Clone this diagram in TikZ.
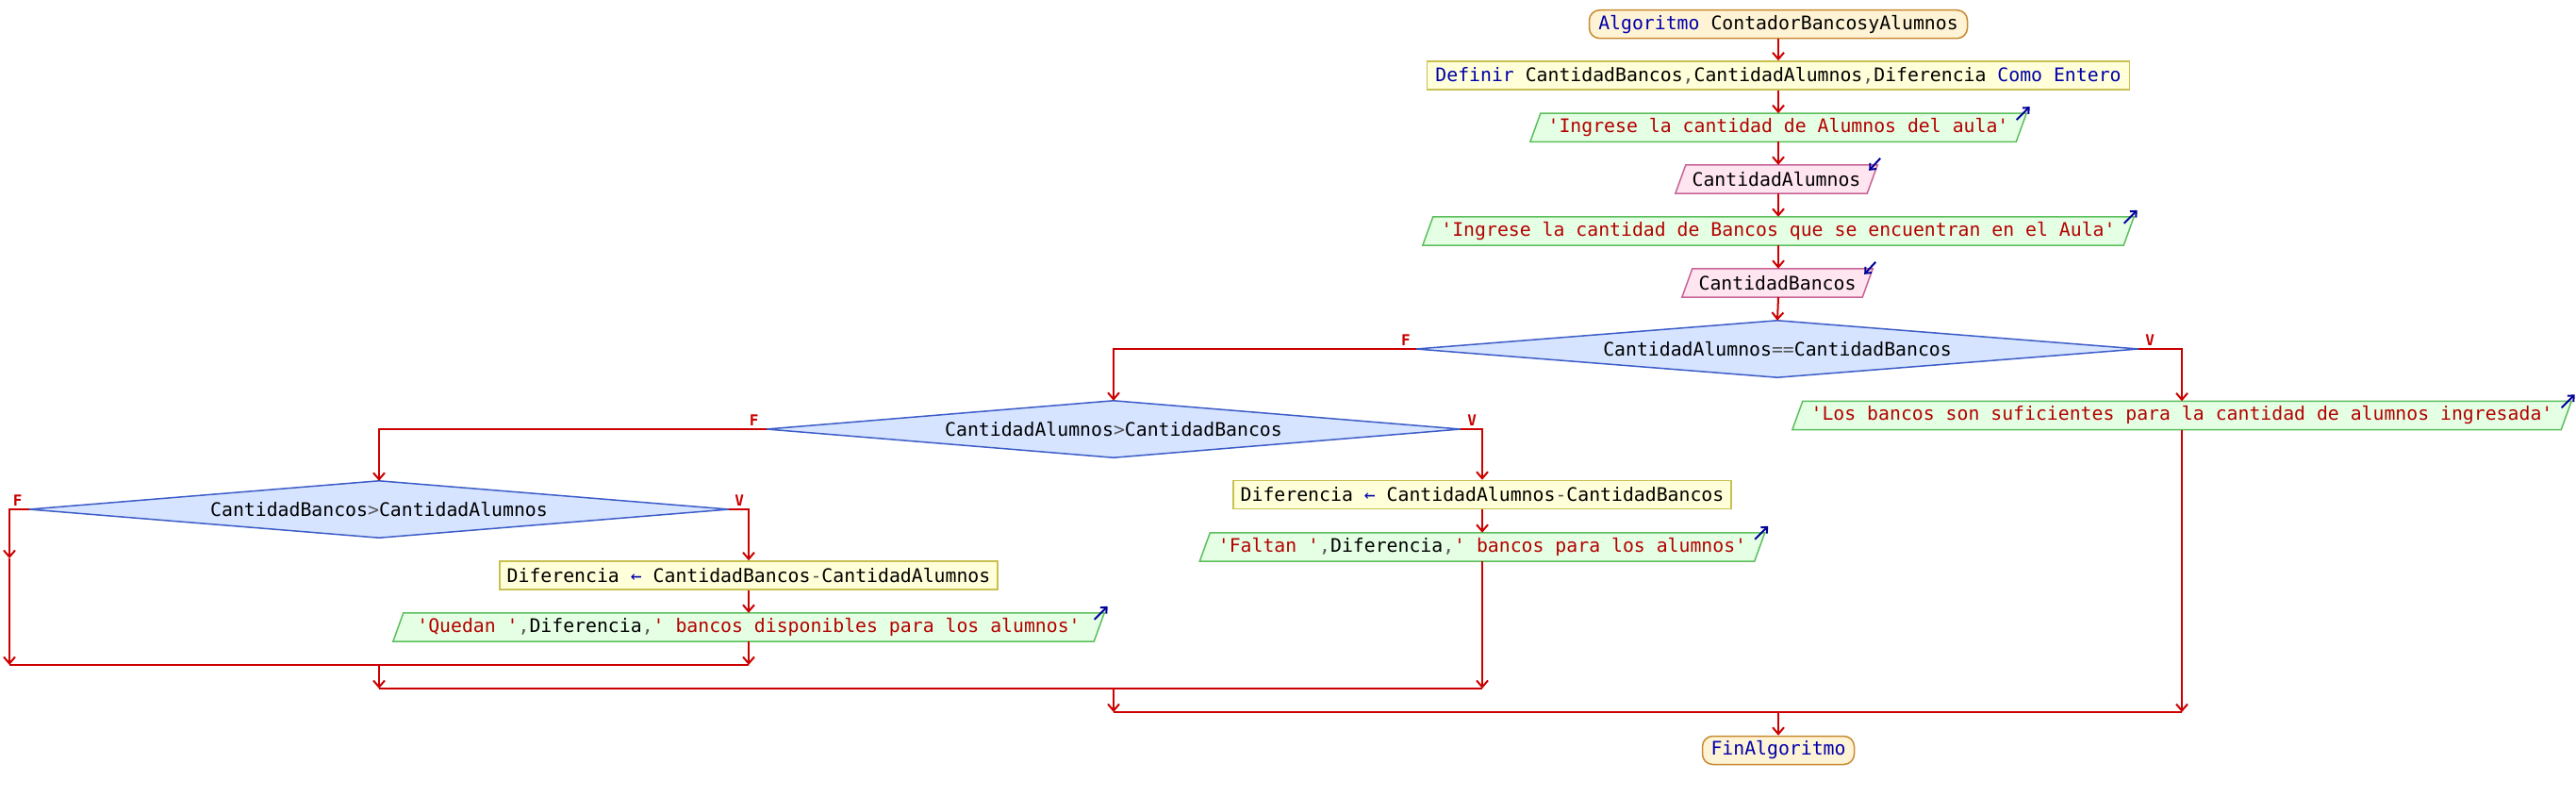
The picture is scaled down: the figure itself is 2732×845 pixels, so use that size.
\documentclass[tikz,border=0pt]{standalone}
\usepackage{fontspec}
\setmonofont{DejaVu Sans Mono}
\usetikzlibrary{arrows.meta,calc}
\pgfdeclarelayer{bg}
\pgfsetlayers{bg,main}
\definecolor{termfill}{HTML}{FFF3D5}
\definecolor{termdraw}{HTML}{C88A30}
\definecolor{procfill}{HTML}{FFFFD9}
\definecolor{procdraw}{HTML}{C8C050}
\definecolor{outfill}{HTML}{E5FFE5}
\definecolor{outdraw}{HTML}{5CBF5C}
\definecolor{infill}{HTML}{FFE5F0}
\definecolor{indraw}{HTML}{C86496}
\definecolor{condfill}{HTML}{D6E4FF}
\definecolor{conddraw}{HTML}{3C5CC8}
\definecolor{flowred}{HTML}{CC0000}
\definecolor{kwblue}{HTML}{0000AA}
\definecolor{strred}{HTML}{B40000}
\definecolor{opgray}{HTML}{555555}
\definecolor{iconblue}{HTML}{000099}
\newcommand{\pkw}[1]{\textcolor{kwblue}{#1}}
\newcommand{\pstr}[1]{\textcolor{strred}{#1}}
\newcommand{\opg}[1]{\textcolor{opgray}{#1}}
\tikzset{
  base/.style={inner sep=0pt, minimum height=30pt, anchor=center,
    font=\ttfamily\fontsize{19.8}{22}\selectfont, text=black},
  term/.style={base, draw=termdraw, fill=termfill, line width=1.5pt, rounded corners=11pt},
  proc/.style={base, draw=procdraw, fill=procfill, line width=1.5pt},
  io/.style={base},
  cond/.style={base, minimum height=60pt},
  flow/.style={draw=flowred, line width=2pt, -{Straight Barb[length=7pt,width=12pt]}},
  joinline/.style={draw=flowred, line width=2.5pt},
  lbl/.style={text=flowred, font=\ttfamily\bfseries\fontsize{16}{16}\selectfont, inner sep=0pt, anchor=south},
  icon/.style={draw=iconblue, line width=2pt, -{Straight Barb[length=5pt,width=9pt]}},
}
\newcommand{\iobg}[3]{%
  \begin{pgfonlayer}{bg}
  \draw[draw=#3, fill=#2, line width=1.5pt]
    ($(#1.south west)+(-5.5pt,0pt)$) -- ($(#1.north west)+(5.5pt,0pt)$) --
    ($(#1.north east)+(5.5pt,0pt)$) -- ($(#1.south east)+(-5.5pt,0pt)$) -- cycle;
  \end{pgfonlayer}}
\newcommand{\condbg}[1]{%
  \begin{pgfonlayer}{bg}
  \draw[draw=conddraw, fill=condfill, line width=1.5pt]
    (#1.west) -- (#1.north) -- (#1.east) -- (#1.south) -- cycle;
  \end{pgfonlayer}}
\newcommand{\outicon}[1]{\draw[icon] ($(#1.north east)+(-5pt,-7pt)$) -- ++(14pt,14pt);}
\newcommand{\inicon}[1]{\draw[icon] ($(#1.north east)+(8.5pt,7pt)$) -- ++(-12pt,-13pt);}
\begin{document}
\begin{tikzpicture}[x=1pt,y=-1pt]
\begin{pgfonlayer}{bg}
\fill[white] (0,0) rectangle (2732,845);
\end{pgfonlayer}
\useasboundingbox (0,0) rectangle (2732,845);

\node[term, minimum width=401pt] (start) at (1886,25.7) {\pkw{Algoritmo} ContadorBancosyAlumnos};
\node[proc, minimum width=745pt] (define) at (1886,80) {\pkw{Definir} CantidadBancos\opg{,}CantidadAlumnos\opg{,}Diferencia \pkw{Como} \pkw{Entero}};
\node[io, minimum width=515pt] (out1) at (1886,135.3) {\pstr{'Ingrese la cantidad de Alumnos del aula'}};
\node[io, minimum width=203pt] (in1) at (1884,190) {CantidadAlumnos};
\node[io, minimum width=743pt] (out2) at (1886,245) {\pstr{'Ingrese la cantidad de Bancos que se encuentran en el Aula'}};
\node[io, minimum width=191pt] (in2) at (1885,300) {CantidadBancos};
\node[cond, minimum width=766pt] (d1) at (1885,370) {CantidadAlumnos\opg{==}CantidadBancos};
\node[io, minimum width=815pt] (out3) at (2314,440.5) {\pstr{'Los bancos son suficientes para la cantidad de alumnos ingresada'}};
\node[cond, minimum width=736pt] (d2) at (1181,455) {CantidadAlumnos\opg{>}CantidadBancos};
\node[proc, minimum width=528pt] (as1) at (1572,524.5) {Diferencia \pkw{←} CantidadAlumnos\opg{-}CantidadBancos};
\node[io, minimum width=588pt] (out4) at (1572,580) {\pstr{'Faltan '}\opg{,}Diferencia\opg{,}\pstr{' bancos para los alumnos'}};
\node[cond, minimum width=742pt] (d3) at (402,540) {CantidadBancos\opg{>}CantidadAlumnos};
\node[proc, minimum width=528pt] (as2) at (794,610) {Diferencia \pkw{←} CantidadBancos\opg{-}CantidadAlumnos};
\node[io, minimum width=743pt] (out5) at (794,665) {\pstr{'Quedan '}\opg{,}Diferencia\opg{,}\pstr{' bancos disponibles para los alumnos'}};
\node[term, minimum width=161pt] (end) at (1886,795.5) {\pkw{FinAlgoritmo}};

\iobg{out1}{outfill}{outdraw}
\iobg{out2}{outfill}{outdraw}
\iobg{out3}{outfill}{outdraw}
\iobg{out4}{outfill}{outdraw}
\iobg{out5}{outfill}{outdraw}
\iobg{in1}{infill}{indraw}
\iobg{in2}{infill}{indraw}
\condbg{d1}
\condbg{d2}
\condbg{d3}

\outicon{out1}
\outicon{out2}
\outicon{out3}
\outicon{out4}
\outicon{out5}
\inicon{in1}
\inicon{in2}

\coordinate (d3f) at (10,592);
\coordinate (j3l) at (10,705);
\coordinate (j3r) at (794,705);
\coordinate (j3m) at (402,705);
\coordinate (j2l) at (402,730);
\coordinate (j2r) at (1572,730);
\coordinate (j2m) at (1181,730);
\coordinate (j1l) at (1181,755);
\coordinate (j1r) at (2314,755);
\coordinate (j1m) at (1886,755);

\draw[flow] (start.south) -- (define.north);
\draw[flow] (define.south) -- (out1.north);
\draw[flow] (out1.south) -- (in1.north -| out1.south);
\draw[flow] (in1.south -| out1.south) -- (out2.north);
\draw[flow] (out2.south) -- (in2.north -| out2.south);
\draw[flow] (in2.south -| out2.south) -- (d1.north);

\draw[flow] (d1.west) -| (d2.north);
\draw[flow] (d1.east) -| (out3.north);
\draw[flow] (out3.south) -- (j1r);

\draw[flow] (d2.west) -| (d3.north);
\draw[flow] (d2.east) -| (as1.north);
\draw[flow] (as1.south) -- (out4.north);
\draw[flow] (out4.south) -- (j2r);

\draw[flow] (d3.west) -| (d3f);
\draw[flow] (d3f) -- (j3l);
\draw[flow] (d3.east) -| (as2.north);
\draw[flow] (as2.south) -- (out5.north);
\draw[flow] (out5.south) -- (j3r);

\draw[joinline] (j3l) -- (j3r);
\draw[flow] (j3m) -- (j2l);
\draw[joinline] (j2l) -- (j2r);
\draw[flow] (j2m) -- (j1l);
\draw[joinline] (j1l) -- (j1r);
\draw[flow] (j1m) -- (end.north);

\node[lbl] (d1F) at ($(d1.west)+(-11pt,3pt)$) {F};
\node[lbl] (d1V) at ($(d1.east)+(12pt,3pt)$) {V};
\node[lbl] (d2F) at ($(d2.west)+(-13pt,3pt)$) {F};
\node[lbl] (d2V) at ($(d2.east)+(12pt,3pt)$) {V};
\node[lbl] (d3F) at ($(d3.west)+(-12pt,3pt)$) {F};
\node[lbl] (d3V) at ($(d3.east)+(11pt,3pt)$) {V};
\end{tikzpicture}
\end{document}
